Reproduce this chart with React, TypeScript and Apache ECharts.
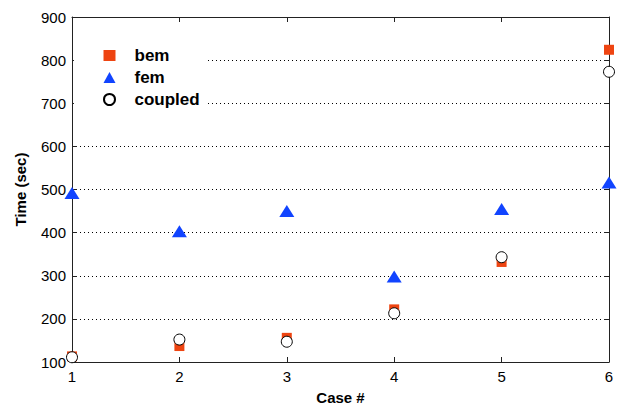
import React, { useEffect, useRef } from "react";
import * as echarts from "echarts";

const cases = [1, 2, 3, 4, 5, 6];
const bem = [113, 137, 156, 222, 332, 824];
const fem = [492, 403, 450, 298, 455, 516];
const coupled = [111, 152, 147, 213, 343, 773];
const yTicks = [100, 200, 300, 400, 500, 600, 700, 800, 900];

const FONT = "Liberation Sans, Arial, Helvetica, sans-serif";
const AXIS_COLOR = "#222";

export default function App() {
  const ref = useRef<HTMLDivElement>(null);
  useEffect(() => {
    if (!ref.current) return;
    const chart = echarts.init(ref.current, undefined, { renderer: "svg" });
    const pair = (vals: number[]) => cases.map((c, i) => [c, vals[i]]);
    const mirrorAxisCommon = {
      axisLine: { show: true, lineStyle: { color: AXIS_COLOR, width: 1 } },
      axisTick: { show: true, inside: true, length: 5, lineStyle: { color: AXIS_COLOR } },
      axisLabel: { show: false },
      splitLine: { show: false },
    };
    chart.setOption({
      animation: false,
      backgroundColor: "#fff",
      grid: { left: 72, right: 9, top: 17, bottom: 40, containLabel: false },
      legend: {
        orient: "vertical",
        left: 74,
        top: 41,
        padding: [6, 8, 6, 29],
        backgroundColor: "#fff",
        itemWidth: 12,
        itemHeight: 11,
        itemGap: 5,
        textStyle: { fontFamily: FONT, fontWeight: "bold", fontSize: 17, color: "#000", padding: [0, 0, 0, 14] },
        data: ["bem", "fem", "coupled"],
      },
      xAxis: [
        {
          type: "value",
          min: 1,
          max: 6,
          interval: 1,
          name: "Case #",
          nameLocation: "middle",
          nameGap: 28,
          nameTextStyle: { fontFamily: FONT, fontWeight: "bold", fontSize: 15, color: "#000" },
          axisLine: { show: true, onZero: false, lineStyle: { color: AXIS_COLOR, width: 1 } },
          axisTick: { show: true, inside: true, length: 5, lineStyle: { color: AXIS_COLOR } },
          axisLabel: { fontFamily: FONT, fontSize: 15, color: "#000", margin: 7 },
          splitLine: { show: false },
        },
        {
          type: "value",
          position: "top",
          min: 1,
          max: 6,
          interval: 1,
          ...mirrorAxisCommon,
        },
      ],
      yAxis: [
        {
          type: "value",
          min: 100,
          max: 900,
          interval: 100,
          name: "Time (sec)",
          nameLocation: "middle",
          nameGap: 44,
          nameTextStyle: { fontFamily: FONT, fontWeight: "bold", fontSize: 15, color: "#000" },
          axisLine: { show: true, onZero: false, lineStyle: { color: AXIS_COLOR, width: 1 } },
          axisTick: { show: true, inside: true, length: 5, lineStyle: { color: AXIS_COLOR } },
          axisLabel: {
            fontFamily: FONT,
            fontSize: 15,
            color: "#000",
            margin: 6,
            formatter: (v: number) => (yTicks.includes(v) ? String(v) : ""),
          },
          splitLine: { show: true, lineStyle: { color: "#000", width: 1, type: [1, 3] } },
        },
        {
          type: "value",
          position: "right",
          min: 100,
          max: 900,
          interval: 100,
          ...mirrorAxisCommon,
        },
      ],
      series: [
        {
          name: "bem",
          type: "scatter",
          clip: false,
          symbol: "rect",
          symbolSize: 10,
          itemStyle: { color: "#ee4411", opacity: 1 },
          data: pair(bem),
          z: 2,
        },
        {
          name: "fem",
          type: "scatter",
          clip: false,
          symbol: "triangle",
          symbolSize: [15, 12],
          itemStyle: { color: "#1144ff", opacity: 1 },
          data: pair(fem),
          z: 3,
        },
        {
          name: "coupled",
          type: "scatter",
          clip: false,
          symbol: "circle",
          symbolSize: 11,
          itemStyle: { color: "#fff", borderColor: "#000", borderWidth: 1, opacity: 1 },
          data: pair(coupled),
          z: 4,
        },
      ],
    });
    return () => chart.dispose();
  }, []);
  return (
    <div
      ref={ref}
      style={{ position: "absolute", left: 0, top: 0, width: 618, height: 410 }}
    />
  );
}
